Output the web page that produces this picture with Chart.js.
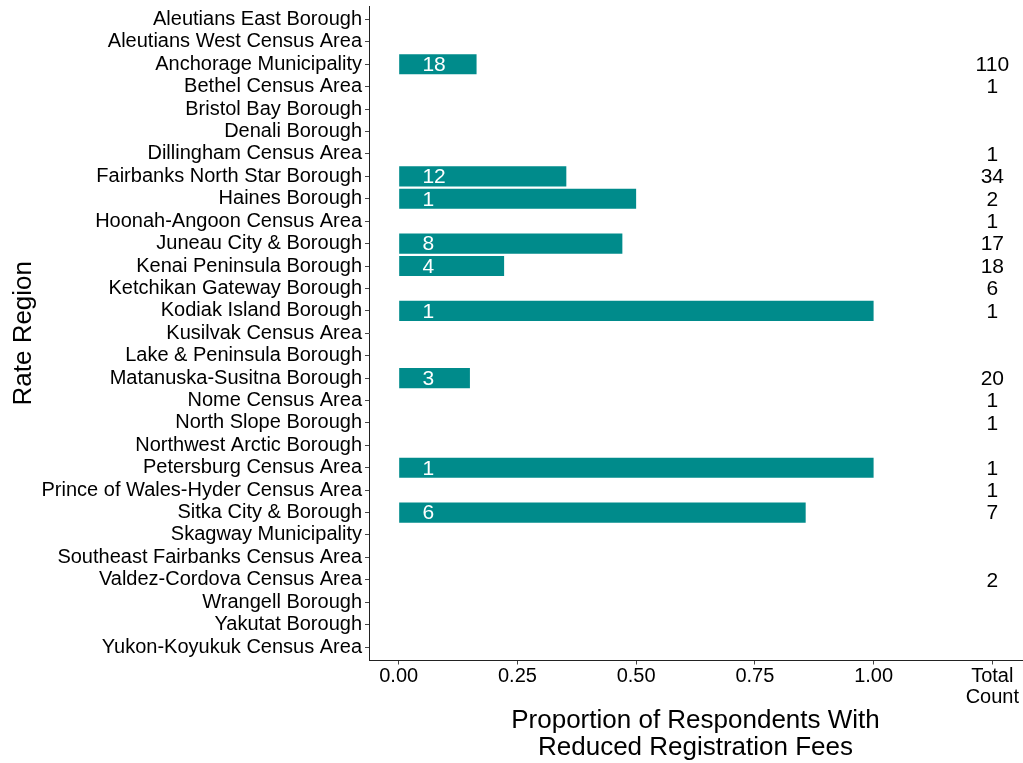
<!DOCTYPE html>
<html>
<head>
<meta charset="utf-8">
<script src="https://cdn.jsdelivr.net/npm/chart.js@4"></script>
<style>
  html, body { margin: 0; padding: 0; background: #fff; }
  #wrap { width: 1023px; height: 763px; }
</style>
</head>
<body>
<div id="wrap"><canvas id="chart" width="1023" height="763"></canvas></div>
<script>
// ── Data ─────────────────────────────────────────────────
const REGIONS = [
  'Aleutians East Borough', 'Aleutians West Census Area', 'Anchorage Municipality',
  'Bethel Census Area', 'Bristol Bay Borough', 'Denali Borough', 'Dillingham Census Area',
  'Fairbanks North Star Borough', 'Haines Borough', 'Hoonah-Angoon Census Area',
  'Juneau City & Borough', 'Kenai Peninsula Borough', 'Ketchikan Gateway Borough',
  'Kodiak Island Borough', 'Kusilvak Census Area', 'Lake & Peninsula Borough',
  'Matanuska-Susitna Borough', 'Nome Census Area', 'North Slope Borough',
  'Northwest Arctic Borough', 'Petersburg Census Area', 'Prince of Wales-Hyder Census Area',
  'Sitka City & Borough', 'Skagway Municipality', 'Southeast Fairbanks Census Area',
  'Valdez-Cordova Census Area', 'Wrangell Borough', 'Yakutat Borough', 'Yukon-Koyukuk Census Area',
];

// proportion with reduced fees (bar length)
const PROPORTION = [
  null, null, 0.164, null, null, null, null, 0.353, 0.5, null,
  0.471, 0.222, null, 1.0, null, null, 0.15, null, null, null,
  1.0, null, 0.857, null, null, null, null, null, null,
];

// count with reduced fees (label inside bar)
const REDUCED_COUNT = [
  null, null, 18, null, null, null, null, 12, 1, null,
  8, 4, null, 1, null, null, 3, null, null, null,
  1, null, 6, null, null, null, null, null, null,
];

// total respondents (right-hand column)
const TOTAL_COUNT = [
  null, null, 110, 1, null, null, 1, 34, 2, 1,
  17, 18, 6, 1, null, null, 20, 1, 1, null,
  1, 1, 7, null, null, 2, null, null, null,
];

const X_TICKS       = [0, 0.25, 0.5, 0.75, 1.0, 1.25];
const X_TICK_LABELS = ['0.00', '0.25', '0.50', '0.75', '1.00', ['Total', 'Count']];
const TOTAL_X = 1.25;   // column where the totals sit
const LABEL_X = 0.05;   // where the in-bar counts start

// ── Style ────────────────────────────────────────────────
const FONT = "'Liberation Sans', Arial, Helvetica, sans-serif";
const TEAL = '#008B8B';
Chart.defaults.font.family = FONT;
Chart.defaults.color = '#000';

// ── Count labels plugin ──────────────────────────────────
const countLabels = {
  id: 'countLabels',
  afterDatasetsDraw(chart) {
    const { ctx, scales: { x, y } } = chart;
    ctx.save();
    ctx.font = `21px ${FONT}`;
    ctx.textBaseline = 'middle';
    REGIONS.forEach((_, i) => {
      const py = y.getPixelForValue(i + 1);
      if (REDUCED_COUNT[i] != null) {
        ctx.fillStyle = '#fff';
        ctx.textAlign = 'left';
        ctx.fillText(String(REDUCED_COUNT[i]), x.getPixelForValue(LABEL_X), py + 1);
      }
      if (TOTAL_COUNT[i] != null) {
        ctx.fillStyle = '#000';
        ctx.textAlign = 'center';
        ctx.fillText(String(TOTAL_COUNT[i]), x.getPixelForValue(TOTAL_X), py + 1);
      }
    });
    ctx.restore();
  },
};

const barData = REGIONS.map((_, i) => ({ x: PROPORTION[i], y: i + 1 }));

new Chart(document.getElementById('chart').getContext('2d'), {
  type: 'bar',
  data: {
    datasets: [{
      data: barData,
      backgroundColor: TEAL,
      borderWidth: 0,
      categoryPercentage: 0.9,
      barPercentage: 1.0,
    }],
  },
  options: {
    indexAxis: 'y',
    responsive: false,
    animation: false,
    layout: { padding: { top: 6, right: 1, bottom: 0, left: 0 } },
    plugins: { legend: { display: false }, tooltip: { enabled: false } },
    scales: {
      x: {
        type: 'linear',
        min: -0.0625,
        max: 1.3125,
        offset: false,
        afterBuildTicks: s => { s.ticks = X_TICKS.map(v => ({ value: v })); },
        afterFit: s => { s.height = 102.5; s.paddingLeft = 0; s.paddingRight = 0; },
        border: { display: true, color: '#222', width: 1 },
        grid: { display: true, offset: false, drawOnChartArea: false, drawTicks: true, tickLength: 4, color: '#444' },
        ticks: {
          autoSkip: false,
          maxRotation: 0,
          padding: 1.5,
          color: '#000',
          font: { size: 20, lineHeight: 1.05 },
          callback: (v, i) => X_TICK_LABELS[i],
        },
        title: {
          display: true,
          text: ['Proportion of Respondents With', 'Reduced Registration Fees'],
          color: '#000',
          font: { size: 26, lineHeight: 1.04 },
          padding: { top: 0, bottom: 1.5 },
        },
      },
      y: {
        type: 'linear',
        reverse: true,
        min: 0.4,
        max: 29.6,
        offset: false,
        afterBuildTicks: s => { s.ticks = REGIONS.map((_, i) => ({ value: i + 1 })); },
        afterFit: s => { s.width = 369; s.paddingTop = 0; s.paddingBottom = 0; },
        border: { display: true, color: '#222', width: 1 },
        grid: { display: true, offset: false, drawOnChartArea: false, drawTicks: true, tickLength: 4, color: '#444' },
        ticks: {
          autoSkip: false,
          padding: 3,
          color: '#000',
          font: { size: 20, lineHeight: 1.1 },
          callback: v => REGIONS[v - 1],
        },
        title: {
          display: true,
          text: 'Rate Region',
          color: '#000',
          font: { size: 26, lineHeight: 1.04 },
          padding: { top: 10, bottom: 0 },
        },
      },
    },
  },
  plugins: [countLabels],
});
</script>
</body>
</html>
